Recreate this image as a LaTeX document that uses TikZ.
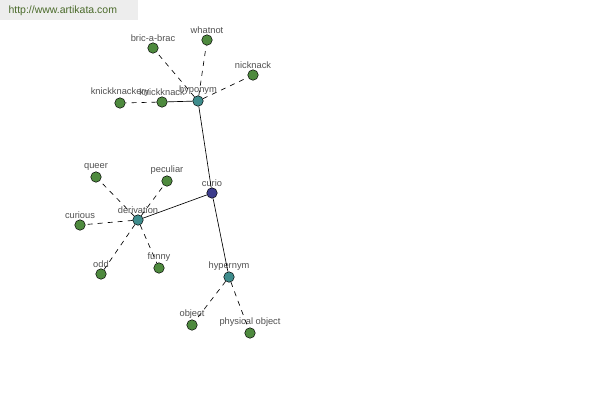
\documentclass[tikz,border=0pt]{standalone}
\usepackage{fontspec}
\setmainfont{Liberation Sans}
\definecolor{leafgreen}{HTML}{4E8A3E}
\definecolor{hubteal}{HTML}{3E8C8C}
\definecolor{rootblue}{HTML}{3C3C8C}
\definecolor{labelgray}{HTML}{505050}
\definecolor{bannergray}{HTML}{EDEDED}
\definecolor{urlgreen}{HTML}{4A6A2A}
\tikzset{
  word/.style={circle, draw=black, line width=0.5pt, fill=leafgreen, minimum size=10.5pt, inner sep=0pt,
    label={[labelgray, font=\fontsize{9.3}{10}\selectfont, inner sep=0pt, yshift=1pt]above:#1}},
  hub/.style={word=#1, fill=hubteal},
  root/.style={word=#1, fill=rootblue},
  rel/.style={line width=0.65pt},
  syn/.style={line width=0.65pt, dash pattern=on 5pt off 5pt}
}
\begin{document}
\begin{tikzpicture}[x=1pt, y=-1pt]
	\useasboundingbox (0,0) rectangle (600,400);
	\fill[bannergray] (0,0) rectangle (138,20);
	\node[anchor=west, urlgreen, font=\fontsize{10.5}{12}\selectfont] (url) at (5,11) {http://www.artikata.com};
	% hubs
	\node[root=curio] (curio) at (212,193) {};
	\node[hub=hyponym] (hypo) at (198,101) {};
	\node[hub=hypernym] (hyper) at (229,277) {};
	\node[hub=derivation] (deriv) at (138,220) {};
	% leaves
	\node[word=bric-a-brac] (bric) at (153,48) {};
	\node[word=whatnot] (whatnot) at (207,40) {};
	\node[word=nicknack] (nicknack) at (253,75) {};
	\node[word=knickknackery] (knickery) at (120,103) {};
	\node[word=knickknack] (knick) at (162,102) {};
	\node[word=queer] (queer) at (96,177) {};
	\node[word=peculiar] (peculiar) at (167,181) {};
	\node[word=curious] (curious) at (80,225) {};
	\node[word=odd] (odd) at (101,274) {};
	\node[word=funny] (funny) at (159,268) {};
	\node[word=object] (object) at (192,325) {};
	\node[word=physical object] (physobj) at (250,333) {};
	% edges
	\draw[rel] (curio) -- (hypo);
	\draw[rel] (curio) -- (hyper);
	\draw[rel] (curio) -- (deriv);
	\draw[rel] (hypo) -- (knick);
	\foreach \w in {bric,whatnot,nicknack} \draw[syn] (hypo) -- (\w);
	\draw[syn] (knick) -- (knickery);
	\foreach \w in {queer,peculiar,curious,odd,funny} \draw[syn] (deriv) -- (\w);
	\foreach \w in {object,physobj} \draw[syn] (hyper) -- (\w);
\end{tikzpicture}
\end{document}
